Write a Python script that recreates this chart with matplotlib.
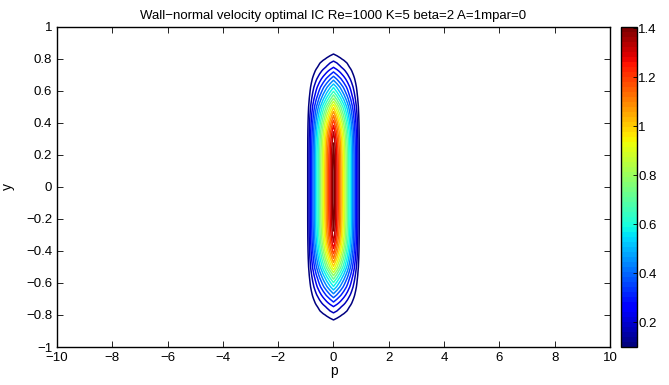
import numpy as np
import matplotlib.pyplot as plt
from matplotlib.colors import Normalize
from matplotlib.cm import ScalarMappable

plt.rcParams['font.family'] = ['Liberation Sans', 'DejaVu Sans']
plt.rcParams['axes.unicode_minus'] = True

# wall-normal profile at p=0 (upper half, mirrored below)
y_half = [0.0, 0.1, 0.2, 0.25, 0.3, 0.35, 0.4, 0.45, 0.5, 0.55, 0.6, 0.625,
          0.65, 0.675, 0.7, 0.725, 0.75, 0.775, 0.8, 0.825, 0.85, 0.9, 0.95, 1.0]
amp_half = [1.45, 1.45, 1.44, 1.42, 1.39, 1.33, 1.24, 1.12, 0.98, 0.80, 0.64, 0.57,
            0.49, 0.42, 0.35, 0.29, 0.23, 0.19, 0.14, 0.105, 0.075, 0.035, 0.01, 0.0]

# streamwise shape (right half, mirrored left)
p_half = [0.0, 0.125, 0.25, 0.375, 0.5, 0.625, 0.75, 0.875, 1.0]
shape_half = [1.0, 0.875, 0.75, 0.625, 0.5, 0.375, 0.25, 0.125, 0.0]

yticks = [-1, -0.8, -0.6, -0.4, -0.2, 0, 0.2, 0.4, 0.6, 0.8, 1]
xticks = [-10, -8, -6, -4, -2, 0, 2, 4, 6, 8, 10]
cbticks = [0.2, 0.4, 0.6, 0.8, 1, 1.2, 1.4]

clim = (0.098, 1.405)
n_levels = 20

y = np.concatenate([-np.array(y_half[:0:-1]), y_half])
amp = np.concatenate([amp_half[:0:-1], amp_half])
p = np.concatenate([-np.array(p_half[:0:-1]), p_half])
shape = np.concatenate([shape_half[:0:-1], shape_half])
Z = np.outer(amp, shape)

cmap = plt.get_cmap('jet', 64)
norm = Normalize(*clim)
levels = np.linspace(clim[0], clim[1], n_levels)


def lab(v):
    return ('%g' % v).replace('-', '\u2212')


fig = plt.figure(figsize=(6.69, 3.85), dpi=100)
ax = fig.add_axes([0.0852, 0.0987, 0.8266, 0.8313])
cax = fig.add_axes([0.928, 0.0987, 0.024, 0.8313])

ax.contour(p, y, Z, levels=levels, cmap=cmap, norm=norm, linewidths=1.1)

ax.set_xlim(-10, 10)
ax.set_ylim(-1, 1)
ax.set_xticks(xticks)
ax.set_xticklabels([lab(v) for v in xticks])
ax.set_yticks(yticks)
ax.set_yticklabels([lab(v) for v in yticks])
ax.tick_params(direction='in', top=True, right=True, labelsize=9.5, length=4, width=0.6)
for s in ax.spines.values():
    s.set_linewidth(1.0)
ax.set_xlabel('p', fontsize=10, labelpad=0)
ax.set_ylabel('y', fontsize=10, labelpad=8)
ax.set_title('Wall\u2212normal velocity optimal IC Re=1000 K=5 beta=2 A=1mpar=0',
             fontsize=9.5, pad=6)

cb = fig.colorbar(ScalarMappable(norm=norm, cmap=cmap), cax=cax)
cb.set_ticks(cbticks)
cb.set_ticklabels([lab(v) for v in cbticks])
cax.tick_params(direction='in', labelsize=9.5, length=3, width=0.6, pad=1)
cb.outline.set_linewidth(1.0)

fig.savefig('out.png', dpi=100)
